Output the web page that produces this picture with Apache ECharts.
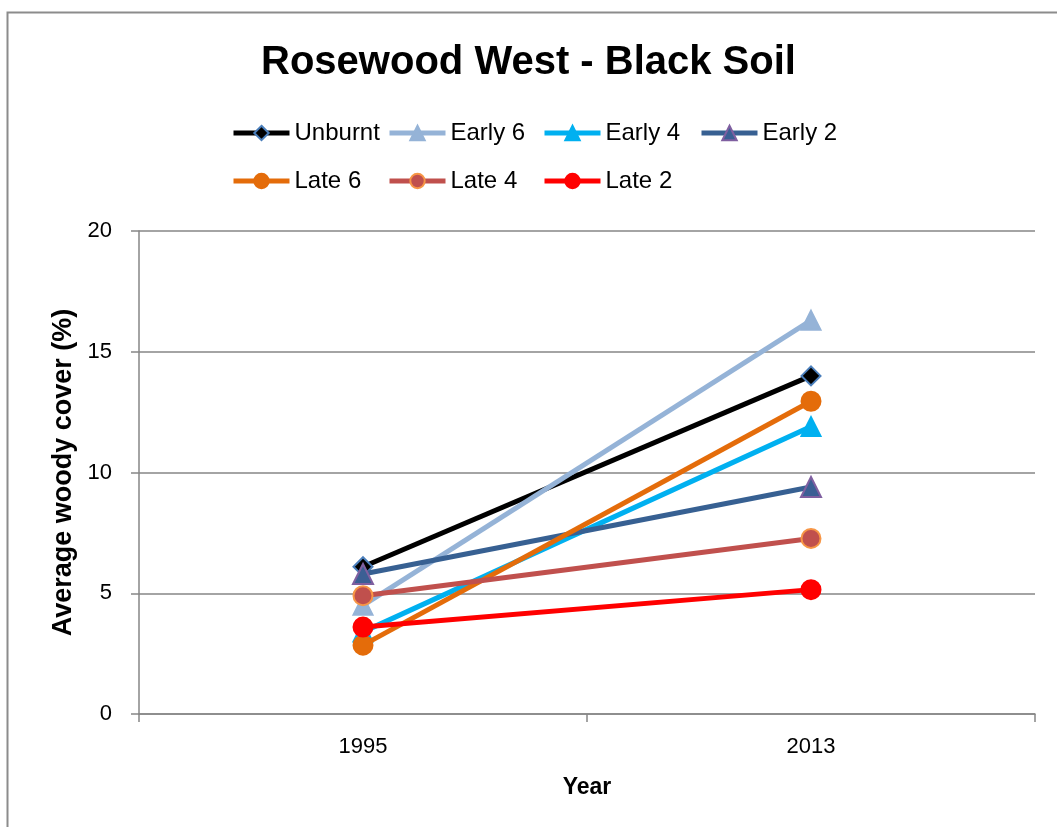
<!DOCTYPE html>
<html>
<head>
<meta charset="utf-8">
<script src="https://cdn.jsdelivr.net/npm/echarts@6/dist/echarts.min.js"></script>
<style>html,body{margin:0;padding:0;background:#fff;}#c{width:1057px;height:827px;}</style>
</head>
<body>
<div id="c"></div>
<script>
const categories = ['1995', '2013'];
const seriesNames = ['Unburnt', 'Early 6', 'Early 4', 'Early 2', 'Late 6', 'Late 4', 'Late 2'];
const unburnt = [6.1, 14.0];
const early6 = [4.5, 16.3];
const early4 = [3.4, 11.9];
const early2 = [5.8, 9.4];
const late6 = [2.85, 12.95];
const late4 = [4.9, 7.27];
const late2 = [3.6, 5.15];
const yTicks = [0, 5, 10, 15, 20];

const values = [unburnt, early6, early4, early2, late6, late4, late2];
const styles = [
  {line: '#000000', fill: '#000000', border: '#4a7ebb', symbol: 'diamond', size: 19},
  {line: '#95b3d7', fill: '#95b3d7', border: '#95b3d7', symbol: 'triangle', size: 19},
  {line: '#00b0f0', fill: '#00b0f0', border: '#00b0f0', symbol: 'triangle', size: 19},
  {line: '#376092', fill: '#3b5f94', border: '#7f5fa0', symbol: 'triangle', size: 20},
  {line: '#e46c0a', fill: '#e46c0a', border: '#e46c0a', symbol: 'circle', size: 19},
  {line: '#c0504d', fill: '#c0504d', border: '#f79646', symbol: 'circle', size: 19},
  {line: '#ff0000', fill: '#ff0000', border: '#ff0000', symbol: 'circle', size: 19}
];
const legendPos = [[231, 121], [387, 121], [542, 121], [699, 121], [231, 169], [387, 169], [542, 169]];

const chart = echarts.init(document.getElementById('c'), null, {renderer: 'canvas'});
const option = {
  backgroundColor: '#ffffff',
  animation: false,
  title: {
    text: 'Rosewood West - Black Soil',
    left: 'center',
    top: 38,
    textStyle: {fontFamily: 'Liberation Sans', fontWeight: 'bold', fontSize: 40, color: '#000'}
  },
  graphic: [{
    type: 'rect', left: 5, top: 10, shape: {width: 1100, height: 900},
    style: {fill: 'none', stroke: '#8c8c8c', lineWidth: 2}, silent: true
  }],
  legend: seriesNames.map((n, i) => ({
    data: [n], left: legendPos[i][0], top: legendPos[i][1],
    itemWidth: 56, itemHeight: 18, padding: 0,
    lineStyle: {width: 5},
    textStyle: {fontFamily: 'Liberation Sans', fontSize: 24, color: '#000'}
  })),
  grid: {left: 139, right: 22, top: 231, bottom: 113, containLabel: false},
  xAxis: {
    type: 'category', data: categories, boundaryGap: true,
    name: 'Year', nameLocation: 'middle', nameGap: 62,
    nameTextStyle: {fontFamily: 'Liberation Sans', fontWeight: 'bold', fontSize: 23, color: '#000'},
    axisLine: {lineStyle: {color: '#868686', width: 1.5}},
    axisTick: {show: true, length: 8, lineStyle: {color: '#868686', width: 1.5}},
    axisLabel: {fontFamily: 'Liberation Sans', fontSize: 22, color: '#000', margin: 22}
  },
  yAxis: {
    type: 'value', min: yTicks[0], max: yTicks[yTicks.length - 1], interval: 5,
    name: 'Average woody cover (%)', nameLocation: 'middle', nameGap: 62,
    nameTextStyle: {fontFamily: 'Liberation Sans', fontWeight: 'bold', fontSize: 27, color: '#000'},
    axisLine: {show: true, lineStyle: {color: '#868686', width: 1.5}},
    axisTick: {show: true, length: 8, lineStyle: {color: '#868686', width: 1.5}},
    splitLine: {lineStyle: {color: '#868686', width: 1.5}},
    axisLabel: {fontFamily: 'Liberation Sans', fontSize: 22, color: '#000', margin: 27}
  },
  series: seriesNames.map((n, i) => ({
    name: n, type: 'line', data: values[i],
    symbol: styles[i].symbol, symbolSize: styles[i].size,
    lineStyle: {color: styles[i].line, width: 5},
    itemStyle: {color: styles[i].fill, borderColor: styles[i].border, borderWidth: 2},
    z: 2 + i
  }))
};
chart.setOption(option);
</script>
</body>
</html>
